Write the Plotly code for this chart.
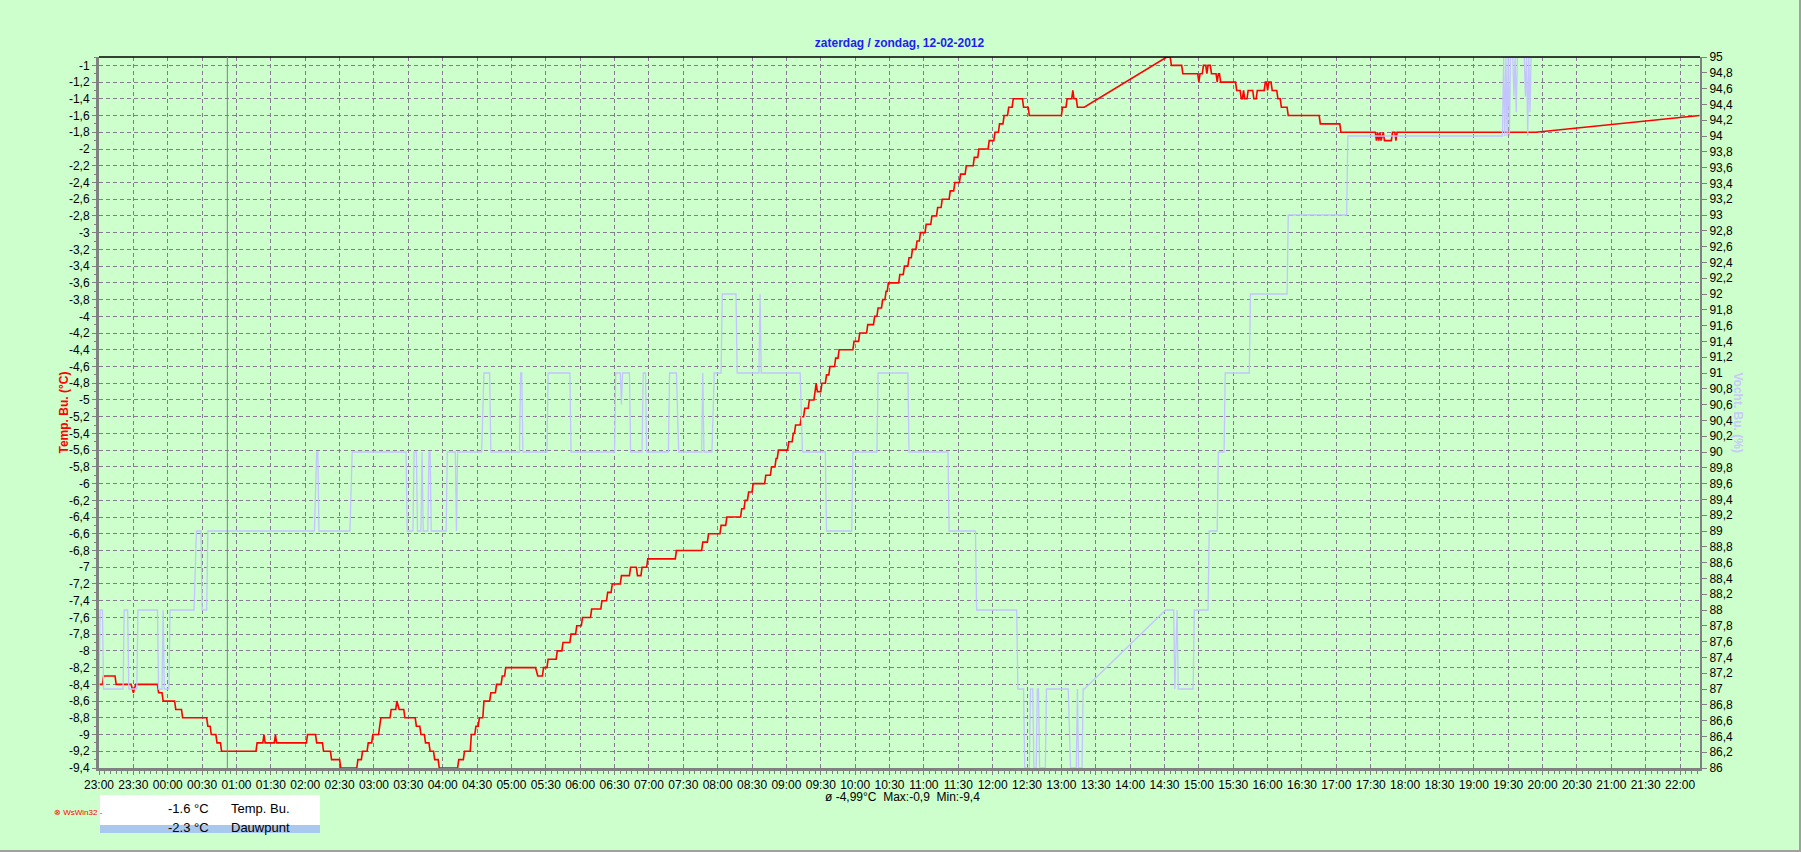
import plotly.graph_objects as go
import pandas as pd

# tijd = minuten na 23:00 (zaterdag 11-02-2012)
start = pd.Timestamp("2012-02-11 23:00")
end_min = 1397.4

# Temp. Bu. (°C), linker as
temp_min = [0, 3, 4, 14, 15, 28, 30, 32, 51, 52, 55, 56,
            66, 67, 72, 73, 94, 95, 97, 98, 102, 103, 106, 107,
            137, 138, 143, 144, 145, 153, 154, 155, 181, 182, 189, 190,
            195, 196, 202, 203, 210, 211, 225, 226, 229, 230, 234, 235,
            238, 239, 244, 245, 246, 254, 255, 259, 260, 262, 266, 267,
            276, 277, 280, 281, 284, 285, 288, 289, 292, 293, 296, 297,
            313, 314, 318, 319, 324, 325, 328, 329, 331, 332, 335, 336,
            341, 342, 346, 347, 351, 352, 354, 355, 381, 383, 387, 388,
            391, 392, 399, 400, 404, 405, 411, 412, 416, 417, 421, 422,
            429, 430, 438, 439, 443, 444, 447, 448, 455, 456, 463, 464,
            469, 470, 473, 474, 478, 479, 503, 504, 526, 527, 531, 532,
            542, 543, 547, 548, 560, 561, 563, 564, 566, 567, 570, 571,
            581, 582, 586, 587, 590, 591, 592, 593, 601, 602, 605, 606,
            607, 608, 612, 613, 615, 616, 619, 620, 624, 625, 626, 627,
            630, 631, 634, 635, 637, 638, 642, 643, 645, 646, 658, 659,
            663, 664, 670, 671, 676, 677, 679, 680, 683, 684, 686, 687,
            688, 689, 698, 699, 702, 703, 706, 707, 709, 710, 713, 714,
            716, 717, 721, 722, 726, 727, 731, 732, 735, 736, 742, 743,
            746, 747, 751, 752, 756, 757, 763, 764, 767, 768, 776, 777,
            781, 782, 785, 786, 789, 790, 793, 794, 797, 798, 806, 807,
            811, 812, 840, 841, 844, 845, 849, 850, 851, 853, 854, 860,
            932, 935, 936, 945, 946, 959, 960, 961, 963, 964, 966, 967,
            968, 970, 971, 975, 976, 977, 978, 979, 992, 993, 996, 997,
            998, 999, 1000, 1002, 1003, 1007, 1008, 1010, 1011, 1017, 1018, 1019,
            1020, 1021, 1023, 1024, 1028, 1029, 1031, 1032, 1033, 1037, 1038, 1065,
            1066, 1083, 1084, 1114, 1115, 1116, 1117, 1118, 1119, 1121, 1122, 1128,
            1129, 1131, 1132, 1133, 1254, 1397]
temp_val = [-8.4, -8.4, -8.3, -8.3, -8.4, -8.4, -8.5, -8.4, -8.4, -8.5, -8.5, -8.6,
            -8.6, -8.7, -8.7, -8.8, -8.8, -8.9, -8.9, -9.0, -9.0, -9.1, -9.1, -9.2,
            -9.2, -9.1, -9.1, -9.0, -9.1, -9.1, -9.0, -9.1, -9.1, -9.0, -9.0, -9.1,
            -9.1, -9.2, -9.2, -9.3, -9.3, -9.4, -9.4, -9.3, -9.3, -9.2, -9.2, -9.1,
            -9.1, -9.0, -9.0, -8.9, -8.8, -8.8, -8.7, -8.7, -8.6, -8.7, -8.7, -8.8,
            -8.8, -8.9, -8.9, -9.0, -9.0, -9.1, -9.1, -9.2, -9.2, -9.3, -9.3, -9.4,
            -9.4, -9.3, -9.3, -9.2, -9.2, -9.0, -9.0, -8.9, -8.9, -8.8, -8.8, -8.6,
            -8.6, -8.5, -8.5, -8.4, -8.4, -8.3, -8.3, -8.2, -8.2, -8.3, -8.3, -8.2,
            -8.2, -8.1, -8.1, -8.0, -8.0, -7.9, -7.9, -7.8, -7.8, -7.7, -7.7, -7.6,
            -7.6, -7.5, -7.5, -7.4, -7.4, -7.3, -7.3, -7.2, -7.2, -7.1, -7.1, -7.0,
            -7.0, -7.1, -7.1, -7.0, -7.0, -6.9, -6.9, -6.8, -6.8, -6.7, -6.7, -6.6,
            -6.6, -6.5, -6.5, -6.4, -6.4, -6.3, -6.3, -6.2, -6.2, -6.1, -6.1, -6.0,
            -6.0, -5.9, -5.9, -5.8, -5.8, -5.7, -5.7, -5.6, -5.6, -5.5, -5.5, -5.4,
            -5.4, -5.3, -5.3, -5.2, -5.2, -5.1, -5.1, -5.0, -5.0, -4.9, -4.8, -4.9,
            -4.9, -4.8, -4.8, -4.7, -4.7, -4.6, -4.6, -4.5, -4.5, -4.4, -4.4, -4.3,
            -4.3, -4.2, -4.2, -4.1, -4.1, -4.0, -4.0, -3.9, -3.9, -3.8, -3.8, -3.7,
            -3.7, -3.6, -3.6, -3.5, -3.5, -3.4, -3.4, -3.3, -3.3, -3.2, -3.2, -3.1,
            -3.1, -3.0, -3.0, -2.9, -2.9, -2.8, -2.8, -2.7, -2.7, -2.6, -2.6, -2.5,
            -2.5, -2.4, -2.4, -2.3, -2.3, -2.2, -2.2, -2.1, -2.1, -2.0, -2.0, -1.9,
            -1.9, -1.8, -1.8, -1.7, -1.7, -1.6, -1.6, -1.5, -1.5, -1.4, -1.4, -1.5,
            -1.5, -1.6, -1.6, -1.5, -1.5, -1.4, -1.4, -1.3, -1.4, -1.4, -1.5, -1.5,
            -0.9, -0.9, -1.0, -1.0, -1.1, -1.1, -1.2, -1.1, -1.1, -1.0, -1.0, -1.1,
            -1.0, -1.0, -1.1, -1.1, -1.2, -1.1, -1.1, -1.2, -1.2, -1.3, -1.3, -1.4,
            -1.4, -1.3, -1.4, -1.4, -1.3, -1.3, -1.4, -1.4, -1.3, -1.3, -1.2, -1.2,
            -1.3, -1.2, -1.2, -1.3, -1.3, -1.4, -1.4, -1.5, -1.5, -1.5, -1.6, -1.6,
            -1.7, -1.7, -1.8, -1.8, -1.9, -1.8, -1.9, -1.8, -1.9, -1.8, -1.9, -1.9,
            -1.8, -1.8, -1.9, -1.8, -1.8, -1.6]

# Vocht. Bu. (%), rechter as
hum_min = [0, 1, 3, 4, 21, 22, 25, 26, 33, 34, 51, 52,
           55, 56, 57, 61, 62, 83, 85, 89, 90, 94, 95, 188,
           190, 191, 192, 219, 221, 268, 269, 274, 275, 277, 278, 281,
           282, 283, 287, 288, 289, 290, 303, 304, 311, 312, 313, 334,
           336, 341, 342, 367, 368, 369, 370, 391, 392, 411, 412, 450,
           451, 455, 456, 457, 463, 464, 474, 475, 477, 478, 497, 498,
           504, 506, 526, 527, 528, 535, 537, 543, 544, 556, 557, 576,
           577, 578, 612, 614, 634, 635, 657, 658, 679, 680, 706, 707,
           741, 742, 765, 766, 801, 802, 807, 808, 812, 813, 815, 816,
           818, 819, 820, 821, 826, 827, 846, 848, 853, 854, 855, 858,
           859, 860, 931, 938, 939, 941, 942, 955, 956, 968, 969, 976,
           977, 982, 983, 1004, 1005, 1037, 1038, 1089, 1090, 1225, 1226, 1227,
           1228, 1229, 1230, 1231, 1232, 1234, 1235, 1236, 1237, 1238, 1244, 1245,
           1246, 1247, 1248, 1249, 1250, 1397]
hum_val = [87, 88, 88, 87, 87, 88, 88, 87, 87, 88, 88, 87,
           87, 88, 87, 87, 88, 88, 89, 89, 88, 88, 89, 89,
           90, 90, 89, 89, 90, 90, 89, 89, 90, 90, 89, 89,
           90, 89, 89, 90, 90, 89, 89, 90, 90, 89, 90, 90,
           91, 91, 90, 90, 91, 91, 90, 90, 91, 91, 90, 90,
           91, 91, 90.6, 91, 91, 90, 90, 91, 91, 90, 90, 91,
           91, 90, 90, 91, 90, 90, 91, 91, 92, 92, 91, 91,
           92, 91, 91, 90, 90, 89, 89, 90, 90, 91, 91, 90,
           90, 89, 89, 88, 88, 87, 87, 86, 86, 87, 87, 86,
           86, 87, 87, 86, 86, 87, 87, 86, 86, 87, 86, 86,
           87, 87, 88, 88, 87, 88, 87, 87, 88, 88, 89, 89,
           90, 90, 91, 91, 92, 92, 93, 93, 94, 94, 95, 94,
           95, 94, 95, 94, 95, 95, 94.5, 95, 94.3, 95, 95, 94.5,
           95, 94, 95, 94.3, 95, 95]

# as-labels
temp_ticks = [round(-9.4 + 0.2 * i, 1) for i in range(43)]
hum_ticks = [round(86 + 0.2 * i, 1) for i in range(46)]


def nl(v):
    s = f"{v:.1f}".replace(".", ",")
    return s[:-2] if s.endswith(",0") else s


marker_min = 112  # grijze lijn 00:52
stats = {"avg": "-4,99", "max": "-0,9", "min": "-9,4"}
now_temp = "-1.6"
now_dew = "-2.3"

# plot-geometrie in pixels
L, T, R, B = 99, 57, 101, 84
W, H = 1801 - L - R, 852 - T - B


def px(x):
    return (x - L) / W


def py(y):
    return 1 - (y - T) / H


def tm(m):
    return start + pd.to_timedelta(m, unit="min")


grid = "#857a90"
axis = "#808080"
font = "Liberation Sans, Arial, sans-serif"

fig = go.Figure()
fig.add_trace(go.Scatter(
    x=tm(pd.Series(hum_min)), y=hum_val, yaxis="y2", mode="lines",
    line=dict(color="#c4c4ff", width=1.3), name="Vocht. Bu."))
fig.add_trace(go.Scatter(
    x=tm(pd.Series(temp_min)), y=temp_val, mode="lines",
    line=dict(color="#ff0000", width=1.6), name="Temp. Bu."))

fig.update_layout(
    width=1801, height=852,
    margin=dict(l=L, r=R, t=T, b=B),
    paper_bgcolor="#ccffcc", plot_bgcolor="#ccffcc",
    showlegend=False,
    font=dict(family=font, size=12, color="black"),
    title=dict(text="<b>zaterdag / zondag, 12-02-2012</b>",
               font=dict(color="#1e1ef0", size=12, family=font),
               x=0.5, xref="paper", xanchor="center",
               y=1 - 43 / 852, yanchor="middle"),
    xaxis=dict(
        type="date", range=[tm(0), tm(end_min)],
        tick0=tm(0), dtick=30 * 60 * 1000, tickformat="%H:%M",
        ticks="outside", ticklen=4, tickcolor=axis,
        minor=dict(dtick=5 * 60 * 1000, ticks="outside", ticklen=3,
                   tickcolor=axis, showgrid=False),
        showline=True, linecolor=axis, linewidth=3,
        showgrid=True, gridcolor=grid, gridwidth=1, griddash="4px,3px",
        zeroline=False, tickfont=dict(size=12)),
    yaxis=dict(
        range=[-9.4, -0.9], tickmode="array", tickvals=temp_ticks,
        ticktext=[nl(v) for v in temp_ticks],
        ticks="outside", ticklen=4, tickcolor=axis,
        minor=dict(tickmode="linear", tick0=-9.4, dtick=0.1, ticks="outside",
                   ticklen=2, tickcolor=axis, showgrid=False),
        showline=True, linecolor=axis, linewidth=3,
        showgrid=True, gridcolor=grid, gridwidth=1, griddash="4px,3px",
        zeroline=False, tickfont=dict(size=12)),
    yaxis2=dict(
        range=[86, 95], overlaying="y", side="right",
        tickmode="array", tickvals=hum_ticks,
        ticktext=[nl(v) for v in hum_ticks],
        ticks="outside", ticklen=5, tickcolor=axis,
        showline=True, linecolor=axis, linewidth=2,
        showgrid=False, zeroline=False, tickfont=dict(size=12)),
)

# bovenrand, grijze tijdlijn, beeldrand
fig.add_shape(type="line", xref="paper", yref="paper", x0=0, x1=1, y0=1, y1=1,
              line=dict(color="black", width=1.5))
fig.add_shape(type="line", xref="x", yref="paper", x0=tm(marker_min), x1=tm(marker_min),
              y0=0, y1=1, line=dict(color=axis, width=1))
fig.add_shape(type="line", xref="paper", yref="paper", x0=px(0), x1=px(1801),
              y0=py(851), y1=py(851), line=dict(color="#a0a0a0", width=2))
fig.add_shape(type="line", xref="paper", yref="paper", x0=px(1800), x1=px(1800),
              y0=py(0), y1=py(852), line=dict(color="#a0a0a0", width=2))

# legenda-blok
fig.add_shape(type="rect", xref="paper", yref="paper", x0=px(100), x1=px(320),
              y0=py(825), y1=py(795), fillcolor="white", line=dict(width=0), layer="below")
fig.add_shape(type="rect", xref="paper", yref="paper", x0=px(100), x1=px(320),
              y0=py(833), y1=py(825), fillcolor="#a9c8ee", line=dict(width=0), layer="below")

ann = [
    dict(text="<b>Temp. Bu. (°C)</b>", x=px(63), y=0.5, textangle=-90,
         font=dict(color="red", size=12)),
    dict(text="<b>Vocht. Bu. (%)</b>", x=px(1738), y=0.5, textangle=90,
         font=dict(color="#c8c8ff", size=12)),
    dict(text=f"ø {stats['avg']}°C\u00a0 Max:{stats['max']}\u00a0 Min:{stats['min']}",
         x=px(902), y=py(797), font=dict(size=12)),
    dict(text=f"{now_temp} °C", x=px(211), y=py(808), xanchor="right", font=dict(size=13)),
    dict(text="Temp. Bu.", x=px(229), y=py(808), xanchor="left", font=dict(size=13)),
    dict(text=f"{now_dew} °C", x=px(211), y=py(827), xanchor="right", font=dict(size=13)),
    dict(text="Dauwpunt", x=px(229), y=py(827), xanchor="left", font=dict(size=13)),
    dict(text="⊗ WsWin32 -", x=px(78), y=py(813), font=dict(color="red", size=8)),
]
for a in ann:
    fig.add_annotation(xref="paper", yref="paper", showarrow=False,
                       xanchor=a.pop("xanchor", "center"), yanchor="middle", **a)

# pagina zonder body-marge zodat de figuur op (0,0) staat, geen modebar
fig.write_html("out.html", config={"displayModeBar": False},
               post_script="document.body.style.margin='0';")
